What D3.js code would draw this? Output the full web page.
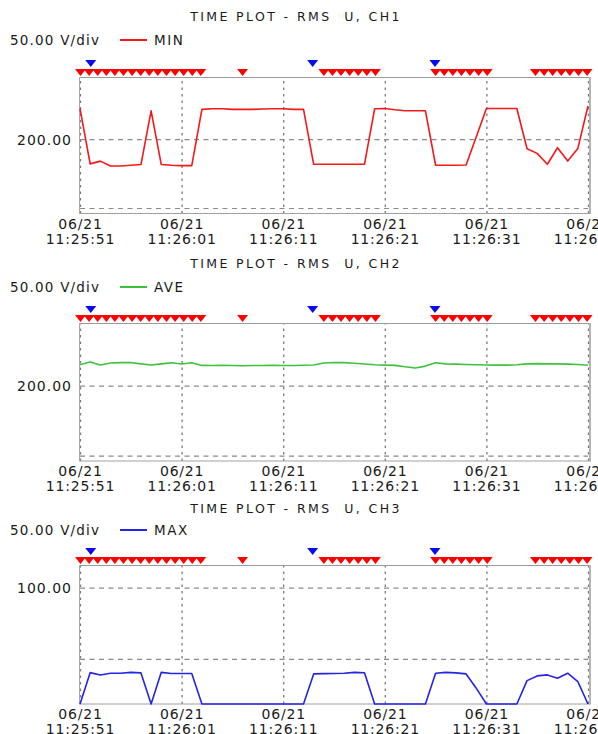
<!DOCTYPE html>
<html>
<head>
<meta charset="utf-8">
<script src="https://cdn.jsdelivr.net/npm/d3@7"></script>
<style>
  body { margin: 0; background: #fff; }
  svg { display: block; font-family: "DejaVu Sans", Verdana, sans-serif; }
</style>
</head>
<body>
<svg id="chart" width="598" height="734"></svg>
<script>
// ---- data -------------------------------------------------------------
const recordDate = "06/21";
const tickLabels = ["11:25:51", "11:26:01", "11:26:11", "11:26:21", "11:26:31", "11:26:41"];

// one RMS sample per second, starting at 11:25:51
const minCh1 = [222.0, 182.0, 184.0, 180.5, 180.5, 181.0, 181.5, 220.5, 181.5, 181.0,
                180.7, 180.7, 221.5, 222.0, 222.0, 221.5, 221.5, 221.5, 221.8, 222.0,
                222.0, 221.5, 221.5, 181.7, 181.7, 181.7, 181.7, 181.7, 181.7, 222.0,
                222.2, 221.2, 220.5, 220.5, 220.5, 181.0, 181.0, 181.0, 181.2, 201.5,
                222.2, 222.2, 222.2, 222.2, 193.0, 189.6, 181.7, 193.7, 184.0, 193.2,
                224.0];
const aveCh2 = [215.0, 217.0, 214.8, 216.2, 216.5, 216.6, 215.6, 214.8, 215.6, 216.4,
                215.5, 216.4, 214.5, 214.4, 214.5, 214.4, 214.3, 214.4, 214.4, 214.5,
                214.4, 214.4, 214.6, 214.8, 216.2, 216.6, 216.5, 216.0, 215.5, 215.0,
                214.7, 214.5, 213.5, 212.6, 214.0, 216.4, 215.6, 215.4, 215.2, 215.0,
                214.8, 214.7, 214.7, 215.0, 215.6, 215.8, 215.6, 215.6, 215.4, 215.2,
                214.6];
const maxCh3 = [0, 40.4, 38.8, 40.0, 40.0, 40.6, 40.2, 0, 40.6, 39.8,
                39.8, 39.8, 0, 0, 0, 0, 0, 0, 0, 0,
                0, 0, 0, 39.5, 39.7, 39.8, 40.0, 40.6, 40.3, 0,
                0, 0, 0, 0, 0, 40.0, 40.6, 40.2, 39.5, 29.5,
                0, 0, 0, 0, 34.8, 38.1, 38.8, 36.5, 40.0, 34.1,
                0];

// event markers, seconds after 11:25:51
const redEvents = [0.05, 0.90, 1.74, 2.59, 3.43, 4.28, 5.13, 5.97, 6.82, 7.66, 8.51, 9.36,
                   10.20, 11.05, 11.89, 16.0,
                   24.0, 24.85, 25.69, 26.54, 27.38, 28.23, 29.08,
                   35.0, 35.85, 36.69, 37.54, 38.38, 39.23, 40.08,
                   44.83, 45.68, 46.52, 47.37, 48.21, 49.06, 49.91];
const blueEvents = [1.06, 22.9, 34.94];

const titles = ["TIME PLOT - RMS  U, CH1", "TIME PLOT - RMS  U, CH2", "TIME PLOT - RMS  U, CH3"];
const seriesNames = ["MIN", "AVE", "MAX"];
const seriesValues = [minCh1, aveCh2, maxCh3];
const scaleText = "50.00 V/div";
const gridValues = [[150, 200], [150, 200], [50, 100]];
const labelledValue = [200, 200, 100];

// ---- layout -----------------------------------------------------------
const panels = [
  { top: 77,  bottom: 213.5, titleY: 21,  legendY: 45,  yDomain: [146.0, 245.0], color: "#f41818" },
  { top: 323, bottom: 461,   titleY: 268, legendY: 292, yDomain: [146.2, 244.8], color: "#3ec23e" },
  { top: 565, bottom: 704,   titleY: 513, legendY: 535, yDomain: [18.4, 115.9],  color: "#2424e4" }
];
const left = 80, right = 588;

const parse = d3.timeParse("%m/%d %H:%M:%S");
const tickDates = tickLabels.map(t => parse(recordDate + " " + t));
const t0 = tickDates[0];
const atSecond = s => new Date(t0.getTime() + s * 1000);

const x = d3.scaleTime().domain([tickDates[0], tickDates[tickDates.length - 1]]).range([left, right]);
const fmtDate = d3.timeFormat("%m/%d");
const fmtTime = d3.timeFormat("%H:%M:%S");

const svg = d3.select("#chart");

panels.forEach((p, i) => {
  const g = svg.append("g");
  const y = d3.scaleLinear().domain(p.yDomain).range([p.bottom, p.top]).clamp(true);

  // header
  g.append("text")
    .attr("x", 296).attr("y", p.titleY)
    .attr("text-anchor", "middle")
    .attr("font-size", 12.5).attr("letter-spacing", 2.4)
    .attr("fill", "#1a1a1a")
    .style("white-space", "pre")
    .text(titles[i]);

  g.append("text")
    .attr("x", 10).attr("y", p.legendY)
    .attr("font-size", 13.5).attr("letter-spacing", 1.2)
    .attr("fill", "#1a1a1a")
    .text(scaleText);
  g.append("line")
    .attr("x1", 120).attr("x2", 147)
    .attr("y1", p.legendY - 5).attr("y2", p.legendY - 5)
    .attr("stroke", p.color).attr("stroke-width", 2);
  g.append("text")
    .attr("x", 154).attr("y", p.legendY)
    .attr("font-size", 13.5).attr("letter-spacing", 1.5)
    .attr("fill", "#1a1a1a")
    .text(seriesNames[i]);

  // horizontal dashed grid
  g.append("g")
    .attr("transform", `translate(${left},0)`)
    .call(d3.axisLeft(y).tickValues(gridValues[i]).tickSize(-(right - left)).tickFormat(""))
    .call(a => a.select(".domain").remove())
    .call(a => a.selectAll("line")
      .attr("stroke", "#8a8a8a").attr("stroke-width", 1.2).attr("stroke-dasharray", "5,4.5"));

  // vertical dotted grid
  g.append("g")
    .attr("transform", `translate(0,${p.bottom})`)
    .call(d3.axisBottom(x).tickValues(tickDates).tickSize(-(p.bottom - p.top)).tickFormat(""))
    .call(a => a.select(".domain").remove())
    .call(a => a.selectAll("line")
      .attr("stroke", "#7a7a7a").attr("stroke-width", 1.3).attr("stroke-dasharray", "2.5,4"));

  // frame
  g.append("line").attr("x1", left - 1).attr("x2", right + 3)
    .attr("y1", p.top + 0.5).attr("y2", p.top + 0.5)
    .attr("stroke", "#9a9a9a").attr("stroke-width", 1.2);
  g.append("line").attr("x1", left - 1).attr("x2", right + 3)
    .attr("y1", p.bottom).attr("y2", p.bottom)
    .attr("stroke", "#a0a0a0").attr("stroke-width", 1.2);
  g.append("line").attr("x1", left - 0.5).attr("x2", left - 0.5)
    .attr("y1", p.top).attr("y2", p.bottom)
    .attr("stroke", "#a8a8a8").attr("stroke-width", 1);
  g.append("line").attr("x1", right + 2).attr("x2", right + 2)
    .attr("y1", p.top).attr("y2", p.bottom)
    .attr("stroke", "#b4b4b4").attr("stroke-width", 2);

  // y label
  g.append("g")
    .attr("transform", `translate(${left},0)`)
    .call(d3.axisLeft(y).tickValues([labelledValue[i]]).tickSize(0).tickPadding(8)
      .tickFormat(d3.format(".2f")))
    .call(a => a.select(".domain").remove())
    .call(a => a.selectAll("text")
      .attr("font-family", "DejaVu Sans, Verdana, sans-serif")
      .attr("font-size", 14).attr("letter-spacing", 1).attr("fill", "#1a1a1a")
      .attr("dy", "0.36em"));

  // x labels: date over time
  const xa = g.append("g")
    .attr("transform", `translate(0,${p.bottom})`)
    .call(d3.axisBottom(x).tickValues(tickDates).tickSize(0).tickFormat(""));
  xa.select(".domain").remove();
  xa.selectAll(".tick text").each(function (d) {
    const t = d3.select(this)
      .attr("y", 0).attr("dy", null)
      .attr("font-family", "DejaVu Sans, Verdana, sans-serif")
      .attr("font-size", 14).attr("letter-spacing", 0.8).attr("fill", "#1a1a1a");
    t.append("tspan").attr("x", 0).attr("y", 15).text(fmtDate(d));
    t.append("tspan").attr("x", 0).attr("y", 30).text(fmtTime(d));
  });

  // series line
  const pts = seriesValues[i].map((v, k) => ({ t: atSecond(k), v }));
  g.append("path")
    .datum(pts)
    .attr("fill", "none")
    .attr("stroke", p.color)
    .attr("stroke-width", 1.6)
    .attr("stroke-linejoin", "round")
    .attr("d", d3.line().x(d => x(d.t)).y(d => y(d.v)));

  // event markers above the plot
  g.append("g").selectAll("path")
    .data(redEvents)
    .join("path")
    .attr("fill", "#ff0000")
    .attr("d", s => {
      const cx = x(atSecond(s));
      return `M${cx - 5.5},${p.top - 8}L${cx + 5.5},${p.top - 8}L${cx},${p.top - 1}Z`;
    });
  g.append("g").selectAll("path")
    .data(blueEvents)
    .join("path")
    .attr("fill", "#0a0af0")
    .attr("d", s => {
      const cx = x(atSecond(s));
      return `M${cx - 5.5},${p.top - 17}L${cx + 5.5},${p.top - 17}L${cx},${p.top - 10}Z`;
    });
});
</script>
</body>
</html>
